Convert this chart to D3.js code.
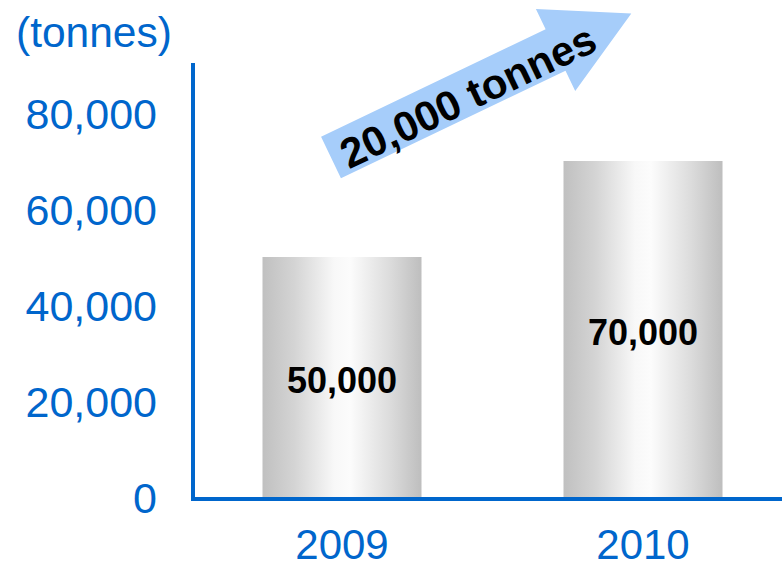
<!DOCTYPE html>
<html>
<head>
<meta charset="utf-8">
<script src="https://cdn.jsdelivr.net/npm/d3@7/dist/d3.min.js"></script>
<style>
    html, body { margin: 0; padding: 0; background: #fff; }
    svg { display: block; font-family: "Liberation Sans", Arial, sans-serif; }
</style>
</head>
<body>
<div id="chart"></div>
<script>
    "use strict";
    // data
    const years = ["2009", "2010"];
    const values = [50000, 70000];
    const yTicks = [0, 20000, 40000, 60000, 80000];
    const unitLabel = "(tonnes)";
    const growthLabel = "20,000 tonnes";

    const width = 782, height = 568;
    const axis_color = "#0066cc",
        arrow_color = "#a6cdfa";

    let svg = d3.select("#chart")
        .append("svg")
        .attr("width", width)
        .attr("height", height);

    // gradient for the bars
    let grad = svg.append("defs")
        .append("linearGradient")
        .attr("id", "barGrad")
        .attr("x1", "0%").attr("x2", "100%")
        .attr("y1", "0%").attr("y2", "0%");
    [[0, "#c0c0c0"], [0.2, "#d4d4d4"], [0.45, "#f8f8f8"], [0.55, "#fcfcfc"], [0.8, "#dcdcdc"], [1, "#bebebe"]]
        .forEach(s => grad.append("stop").attr("offset", s[0]).attr("stop-color", s[1]));

    // bar centres
    let x = d3.scalePoint().domain(years).range([342, 643]);
    const barW = 159;

    let y = d3.scaleLinear()
        .domain([0, 90000])
        .range([497, 65]);

    // bars
    svg.append("g")
        .selectAll("rect")
        .data(values)
        .enter()
        .append("rect")
        .attr("x", (d, i) => x(years[i]) - barW / 2)
        .attr("y", d => y(d))
        .attr("width", barW)
        .attr("height", d => y(0) - y(d))
        .attr("fill", "url(#barGrad)");

    // value labels
    svg.append("g")
        .selectAll("text")
        .data(values)
        .enter()
        .append("text")
        .attr("x", (d, i) => x(years[i]))
        .attr("y", d => (y(d) + y(0)) / 2 + 3)
        .attr("text-anchor", "middle")
        .attr("dominant-baseline", "central")
        .style("font-size", "36px")
        .style("font-weight", "bold")
        .attr("fill", "#000")
        .text(d => d3.format(",")(d));

    // y axis
    let yAxis = d3.axisLeft(y)
        .tickValues(yTicks)
        .tickSize(0)
        .tickPadding(36)
        .tickFormat(d3.format(","));
    let gy = svg.append("g")
        .attr("transform", "translate(193,0)")
        .call(yAxis);
    gy.select(".domain").remove();
    gy.selectAll("text")
        .attr("fill", axis_color)
        .style("font-size", "43px")
        .style("font-family", "'Liberation Sans', Arial, sans-serif")
        .attr("dy", "0.36em");

    // axis lines
    svg.append("line")
        .attr("x1", 193).attr("x2", 193)
        .attr("y1", 63).attr("y2", y(0) + 2)
        .attr("stroke", axis_color).attr("stroke-width", 4);
    svg.append("line")
        .attr("x1", 191).attr("x2", width)
        .attr("y1", y(0) + 2).attr("y2", y(0) + 2)
        .attr("stroke", axis_color).attr("stroke-width", 4);

    // x axis labels
    svg.append("g")
        .selectAll("text")
        .data(years)
        .enter()
        .append("text")
        .attr("x", d => x(d))
        .attr("y", 559)
        .attr("text-anchor", "middle")
        .attr("fill", axis_color)
        .style("font-size", "42px")
        .text(d => d);

    // unit label
    svg.append("text")
        .attr("x", 16)
        .attr("y", 47)
        .attr("fill", axis_color)
        .style("font-size", "42.5px")
        .text(unitLabel);

    // growth arrow (local coords, then rotated)
    const shaftHalf = 23, shaftLen = 249, headHalf = 45.5, totalLen = 333;
    let arrow = svg.append("g")
        .attr("transform", "translate(331,157.5) rotate(-25.6)");
    arrow.append("path")
        .attr("d", d3.line()([
            [0, -shaftHalf], [shaftLen, -shaftHalf], [shaftLen, -headHalf],
            [totalLen, 0],
            [shaftLen, headHalf], [shaftLen, shaftHalf], [0, shaftHalf]
        ]) + "Z")
        .attr("fill", arrow_color);
    arrow.append("text")
        .attr("x", 150)
        .attr("y", 4)
        .attr("text-anchor", "middle")
        .attr("dominant-baseline", "central")
        .style("font-size", "42px")
        .style("font-weight", "bold")
        .attr("fill", "#000")
        .text(growthLabel);
</script>
</body>
</html>
